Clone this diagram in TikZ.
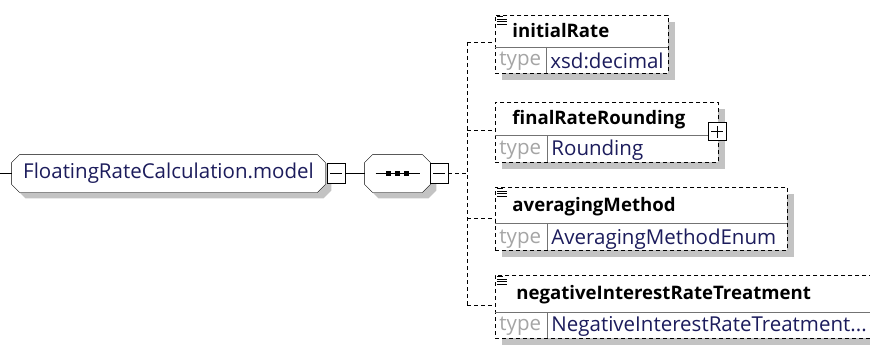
\documentclass[tikz,border=0pt]{standalone}
\usepackage{fontspec}
\setmainfont{Open Sans}
\usetikzlibrary{shadows,backgrounds,positioning}
\definecolor{valtext}{RGB}{28,28,92}
\definecolor{typegrey}{RGB}{165,165,165}
\definecolor{shadowgrey}{RGB}{195,195,195}
% octagon round a node, #2 = offset for the shadow
\newcommand\octapath[2]{([xshift=8pt+#2,yshift=0pt-#2]#1.north west)
  -- ([xshift=-8pt+#2,yshift=0pt-#2]#1.north east)
  -- ([xshift=#2,yshift=-8pt-#2]#1.north east) -- ([xshift=#2,yshift=8pt-#2]#1.south east)
  -- ([xshift=-8pt+#2,yshift=0pt-#2]#1.south east) -- ([xshift=8pt+#2,yshift=0pt-#2]#1.south west)
  -- ([xshift=#2,yshift=8pt-#2]#1.south west) -- ([xshift=#2,yshift=-8pt-#2]#1.north west) -- cycle}

\begin{document}
\begin{tikzpicture}[x=1pt,y=-1pt,line width=0.9pt]
\tikzstyle{octa}=[rectangle,inner sep=0pt,minimum height=37pt]
\tikzstyle{elem}=[rectangle,draw=black,fill=white,dash pattern=on 4pt off 3pt,inner sep=0pt,
  anchor=north west,drop shadow={shadow xshift=7pt,shadow yshift=-7pt,fill=shadowgrey,opacity=1}]
\tikzstyle{conn}=[draw=black,dash pattern=on 4pt off 3pt]
\tikzstyle{divline}=[draw=black!55,line width=0.8pt]
\tikzstyle{elemname}=[anchor=west,inner sep=0pt,font=\fontsize{18.6}{22}\selectfont\bfseries]
\tikzstyle{typelbl}=[anchor=west,inner sep=0pt,text=typegrey,font=\fontsize{20.5}{24}\selectfont]
\tikzstyle{typeval}=[anchor=west,inner sep=0pt,text=valtext,font=\fontsize{20.5}{24}\selectfont]
\tikzstyle{minusbox}=[draw=black,fill=white,solid,minimum width=18pt,minimum height=20pt,inner sep=0pt,
  path picture={\draw[line width=0.9pt] ([xshift=3pt]path picture bounding box.west)
    -- ([xshift=-3pt]path picture bounding box.east);}]
\tikzstyle{plusbox}=[minusbox,minimum height=18pt,
  path picture={\draw[line width=0.9pt] ([xshift=3pt]path picture bounding box.west)
    -- ([xshift=-3pt]path picture bounding box.east);
    \draw[line width=0.9pt] ([yshift=3pt]path picture bounding box.south)
    -- ([yshift=-3pt]path picture bounding box.north);}]
\useasboundingbox (0,0) rectangle (870,345);

% left side: group and sequence
\coordinate (start) at (0,173.5);
\node[octa,minimum width=313pt,text=valtext,font=\fontsize{20.5}{24}\selectfont] (model) at (168.5,173.5) {FloatingRateCalculation.model};
\node[octa,minimum width=65pt] (seq) at (397.5,173.5) {};
\begin{scope}[on background layer]
  \fill[shadowgrey] \octapath{model}{6pt};
  \filldraw[fill=white] \octapath{model}{0pt};
  \fill[shadowgrey] \octapath{seq}{6pt};
  \filldraw[fill=white] \octapath{seq}{0pt};
\end{scope}
\node[minusbox] (modelminus) at (336,173.5) {};
\node[minusbox] (seqminus) at (439,173.5) {};
\coordinate (bus) at (467,173.5);
\draw (start) -- (model.west);
\draw (modelminus.east) -- (seq.west);
\draw ([xshift=-22pt]seq.center) -- ([xshift=22pt]seq.center);
\foreach \d in {-9,0,9}
  \fill ([xshift=\d pt]seq.center) +(-2.6pt,-2.6pt) rectangle +(2.6pt,2.6pt);
\draw[conn] (seqminus.east) -- (bus);

% elements
\node[elem,minimum width=173pt,minimum height=58pt] (initrate) at (495,15) {};
\draw[divline] (495,47) -- (668,47) (546,47) -- (546,73);
\node[elemname] (initratename) at (512,31) {initialRate};
\node[typelbl] (initratetype) at (499,61) {type};
\node[typeval] (initrateval) at (550,61) {xsd:decimal};

\node[elem,minimum width=223pt,minimum height=60pt] (finalrnd) at (495,102) {};
\draw[divline] (495,135) -- (718,135) (547,135) -- (547,162);
\node[elemname] (finalrndname) at (512,120) {finalRateRounding};
\node[typelbl] (finalrndtype) at (499,150) {type};
\node[typeval] (finalrndval) at (551,150) {Rounding};
\node[plusbox] (finalrndplus) at (717,131.5) {};

\node[elem,minimum width=292pt,minimum height=63pt] (avgmethod) at (495,187) {};
\draw[divline] (495,223) -- (787,223) (547,223) -- (547,250);
\node[elemname] (avgmethodname) at (512,207) {averagingMethod};
\node[typelbl] (avgmethodtype) at (499,239) {type};
\node[typeval] (avgmethodval) at (551,239) {AveragingMethodEnum};

\node[elem,minimum width=385pt,minimum height=63pt] (negrate) at (495,275) {};
\draw[divline] (495,312) -- (880,312) (547,312) -- (547,338);
\node[elemname] (negratename) at (516,295) {negativeInterestRateTreatment};
\node[typelbl] (negratetype) at (499,326) {type};
\node[typeval] (negrateval) at (551,326) {NegativeInterestRateTreatment...};

% documentation marks
\foreach \y in {15,187,275} {
  \draw[line width=0.7pt] (497,\y+1.5) -- (503,\y+1.5);
  \foreach \k in {4,6.5,9} \draw[line width=0.7pt] (497,\y+\k) -- (507,\y+\k);
}

% bus and branches
\coordinate (b1) at (467,42);
\coordinate (b2) at (467,130);
\coordinate (b3) at (467,218);
\coordinate (b4) at (467,305);
\draw[conn] (b1) -- (b4);
\draw[conn] (b1) -- (b1 -| initrate.west);
\draw[conn] (b2) -- (b2 -| finalrnd.west);
\draw[conn] (b3) -- (b3 -| avgmethod.west);
\draw[conn] (b4) -- (b4 -| negrate.west);
\end{tikzpicture}
\end{document}
